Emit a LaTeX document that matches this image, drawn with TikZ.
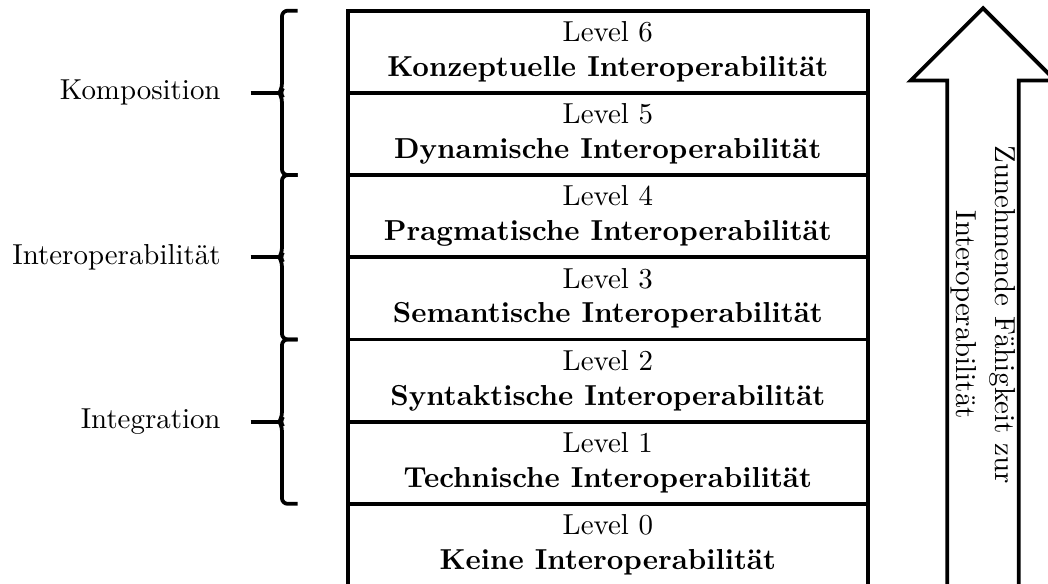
\documentclass[tikz,border=0pt]{standalone}
\usepackage{fontspec}
\usetikzlibrary{positioning}

\tikzset{
  levelbox/.style={draw, line width=1.3pt, outer sep=0pt, minimum width=6.33cm,
    minimum height=1cm, align=center, inner sep=0pt},
  klammer/.style={line width=1.3pt, rounded corners=2pt},
  pfeil/.style={line width=1.3pt, line join=miter},
}

\begin{document}
\begin{tikzpicture}
            % Rahmen
            \useasboundingbox (-4.23,0.025) rectangle (8.52,7.13);

            % Parameter
            \def\bx{-0.80}  % senkrechte Linie der Klammer
            \def\bt{-0.61}  % Enden der Klammer

            % Stufen
            \foreach \i/\name in {0/Keine, 1/Technische, 2/Syntaktische, 3/Semantische,
                                  4/Pragmatische, 5/Dynamische, 6/Konzeptuelle}
              \node[levelbox] (lvl\i) at (3.165,\i+0.5)
                {Level \i\\\textbf{\name{} Interoperabilität}};

            % Klammern links
            \foreach \lo/\txt/\name in {1/Integration/integ, 3/Interoperabilität/inter, 5/Komposition/komp} {
              \draw[klammer] (\bt,\lo) -- (\bx,\lo) -- (\bx,\lo+0.96) -- (\bx-0.03,\lo+1)
                -- (\bx,\lo+1.04) -- (\bx,\lo+2) -- (\bt,\lo+2);
              \coordinate (\name) at (-1.18,\lo+1);
              \coordinate (\name-spitze) at (\bx-0.03,\lo+1);
              \node[left=0.36cm of \name, inner sep=0pt] (\name-lbl) {\txt};
              \draw[line width=1.3pt] (\name) -- (\name-spitze);
            }

            % Pfeil rechts
            \draw[pfeil] (7.295,-0.2) -- (7.295,6.15) -- (6.85,6.15) -- (7.73,7.03)
                -- (8.61,6.15) -- (8.165,6.15) -- (8.165,-0.2);
            \node[rotate=-90, align=center] (zunahme) at (7.73,3.3)
                {Zunehmende Fähigkeit zur\\[1.5pt] Interoperabilität};
        \end{tikzpicture}
\end{document}
